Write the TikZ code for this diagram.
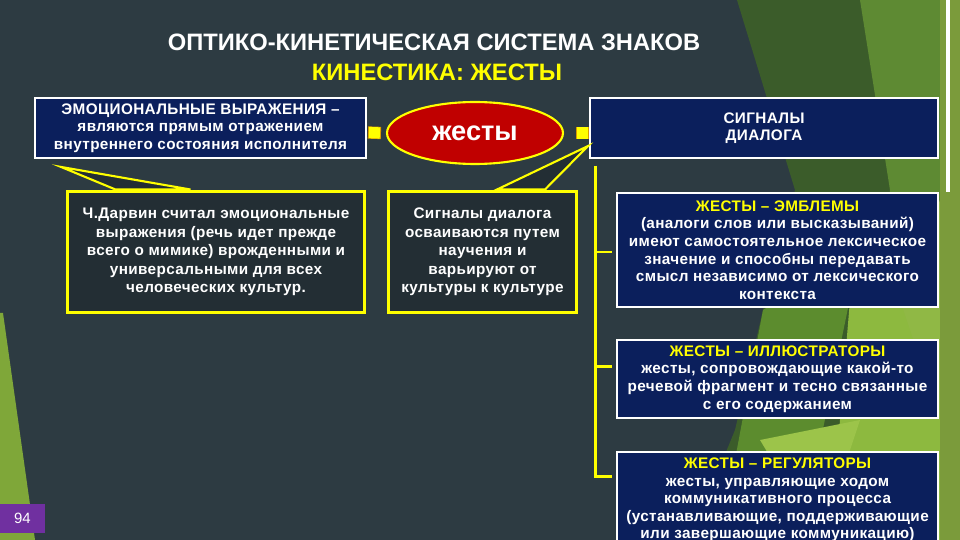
\documentclass[tikz,border=0pt]{standalone}
\usepackage{fontspec}
\setmainfont{Liberation Sans}
\newfontfamily\spacedsans[LetterSpace=2.5]{Liberation Sans}
\usetikzlibrary{shapes.geometric,calc}
\definecolor{bgslate}{HTML}{2D3B42}
\definecolor{navy}{HTML}{0B1F5C}
\definecolor{callfill}{HTML}{232E34}
\definecolor{yel}{HTML}{FFFF00}
\definecolor{connorange}{HTML}{D89A00}
\definecolor{redell}{HTML}{C00000}
\definecolor{purp}{HTML}{7030A0}
\definecolor{gdark}{HTML}{3B5C2A}
\definecolor{golive}{HTML}{5E8A33}
\definecolor{gmid}{HTML}{5C8C2E}
\definecolor{glight}{HTML}{8DB93F}
\definecolor{gpale}{HTML}{9CC44A}
\definecolor{gstrip}{HTML}{7B9B3B}
\begin{document}
\begin{tikzpicture}[x=0.02cm,y=-0.02cm,
  navybox/.style={draw=white, line width=0.8pt, fill=navy, text=white,
    font=\spacedsans\bfseries\fontsize{8.7}{10}\selectfont, align=center, inner sep=0pt},
  callout/.style={draw=yel, line width=1.7pt, fill=callfill, text=white,
    font=\spacedsans\bfseries\fontsize{8.7}{10.5}\selectfont, align=center, inner sep=0pt,
    minimum height=2.44cm},
  tailshape/.style={draw=yel, line width=1.2pt, fill=callfill, line join=miter},
  connbar/.style={line width=6.4pt, draw=yel},
  treeline/.style={draw=yel, line width=1.7pt},
  titlefont/.style={font=\bfseries\fontsize{13.5}{15}\selectfont}
]
\useasboundingbox (0,0) rectangle (960,540);
\clip (0,0) rectangle (960,540);
% background
\fill[bgslate] (0,0) rectangle (960,540);
\fill[gdark] (737,0) -- (960,0) -- (960,540) -- (690,540) -- (735,430) -- (763,310) -- (795,190) -- cycle;
\fill[golive] (860,0) -- (960,0) -- (960,540) -- (900,540) -- (880,300) -- (890,190) -- cycle;
\fill[gmid] (763,310) -- (860,250) -- (800,540) -- (720,540) -- cycle;
\fill[glight] (850,300) -- (930,200) -- (960,540) -- (830,540) -- cycle;
\fill[gpale] (760,440) -- (860,420) -- (820,540) -- cycle;
\fill[gpale!80!golive] (900,300) -- (940,200) -- (940,420) -- cycle;
\fill[gstrip] (940,0) rectangle (960,540);
\fill[white] (946,0) rectangle (950,192);
\fill[glight!90!black] (0,313) -- (3,313) -- (35,540) -- (0,540) -- cycle;
% page number
\node[fill=purp, text=white, font=\fontsize{8.5}{10}\selectfont, minimum width=0.9cm, minimum height=0.58cm, inner sep=0pt] (pnum) at (22.5,518.5) {94};
% titles
\node[titlefont, text=white] (title) at (434,42) {ОПТИКО-КИНЕТИЧЕСКАЯ СИСТЕМА ЗНАКОВ};
\node[titlefont, text=yel] (subtitle) at (437,72) {КИНЕСТИКА: ЖЕСТЫ};
% top boxes
\node[navybox, line width=1.1pt, minimum width=6.62cm, minimum height=1.2cm] (emo) at (200.5,128)
  {ЭМОЦИОНАЛЬНЫЕ ВЫРАЖЕНИЯ –\\являются прямым отражением\\внутреннего состояния исполнителя};
\node[navybox, line width=1.1pt, minimum width=6.96cm, minimum height=1.2cm] (sig) at (764,128)
  {СИГНАЛЫ\\ДИАЛОГА};
\node[ellipse, fill=redell, draw=yel, line width=1.2pt, minimum width=3.52cm, minimum height=1.24cm,
  text=white, font=\bfseries\fontsize{15.5}{17}\selectfont, inner sep=0pt] (ell) at (475,133) {жесты};
% callout boxes with tails
\node[callout, minimum width=5.96cm] (darwin) at (216,252) {\phantom{x}};
\node[callout, minimum width=3.78cm] (dial) at (482.5,252) {\phantom{x}};
\coordinate (tailA) at ($(emo.south west)+(27,8)$);
\coordinate (tailB) at ($(sig.west)+(-1,18)$);
\filldraw[tailshape] ($(darwin.north west)+(50,0)$) -- (tailA) -- ($(darwin.north west)+(125,0)$) -- cycle;
\filldraw[tailshape] ($(dial.north)+(14.5,0)$) -- (tailB) -- ($(dial.north)+(62.5,0)$) -- cycle;
\node[callout, minimum width=5.96cm] at (darwin) {Ч.Дарвин считал эмоциональные\\выражения (речь идет прежде\\всего о мимике) врожденными и\\универсальными для всех\\человеческих культур.};
\node[callout, minimum width=3.78cm] at (dial) {Сигналы диалога\\осваиваются путем\\научения и\\варьируют от\\культуры к культуре};
% right boxes
\node[navybox, minimum width=6.42cm, minimum height=2.28cm] (emb) at (777.5,250)
  {\textcolor{yel}{ЖЕСТЫ – ЭМБЛЕМЫ}\\(аналоги слов или высказываний)\\имеют самостоятельное лексическое\\значение и способны передавать\\смысл независимо от лексического\\контекста};
\node[navybox, minimum width=6.42cm, minimum height=1.56cm] (ill) at (777.5,379)
  {\textcolor{yel}{ЖЕСТЫ – ИЛЛЮСТРАТОРЫ}\\жесты, сопровождающие какой-то\\речевой фрагмент и тесно связанные\\с его содержанием};
\node[navybox, minimum width=6.42cm, minimum height=1.92cm] (reg) at (777.5,500)
  {\textcolor{yel}{ЖЕСТЫ – РЕГУЛЯТОРЫ}\\жесты, управляющие ходом\\коммуникативного процесса\\(устанавливающие, поддерживающие\\или завершающие коммуникацию)};
% connectors
\draw[connbar, draw=connorange, line width=7pt] ($(emo.east)+(1,4.5)$) -- ($(ell.west)+(-5,0)$);
\draw[connbar, shorten <=0.6pt, shorten >=0.6pt] ($(emo.east)+(1,4.5)$) -- ($(ell.west)+(-5,0)$);
\draw[connbar, draw=connorange, line width=7pt] ($(ell.east)+(12,0)$) -- (ell.east -| sig.west);
\draw[connbar, shorten <=0.6pt, shorten >=0.6pt] ($(ell.east)+(12,0)$) -- (ell.east -| sig.west);
\coordinate (treetop) at ($(sig.south west)+(6,7)$);
\draw[treeline] (treetop) |- ($(emb.west)+(-4,2)$);
\draw[treeline] (treetop) |- ($(ill.north west)+(-4,27)$);
\draw[treeline] (treetop) |- ($(reg.north west)+(-4,25)$);
\end{tikzpicture}
\end{document}
